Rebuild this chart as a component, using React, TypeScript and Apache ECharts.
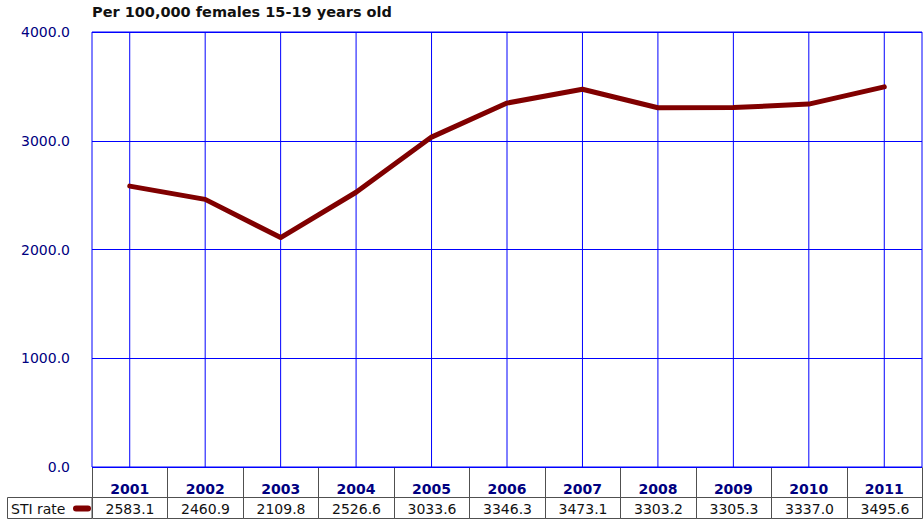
import React, { useEffect, useRef } from "react";
import * as echarts from "echarts";

const years = ["2001", "2002", "2003", "2004", "2005", "2006", "2007", "2008", "2009", "2010", "2011"];
const stiRate = [2583.1, 2460.9, 2109.8, 2526.6, 3033.6, 3346.3, 3473.1, 3303.2, 3305.3, 3337.0, 3495.6];
const seriesName = "STI rate";
const titleText = "Per 100,000 females 15-19 years old";

const W = 923;
const H = 519;
const GL = 92;
const GR = 922;
const GT = 32;
const GB = 467;
const FONT = "DejaVu Sans";
const Y_MIN = 0;
const Y_MAX = 4000;

export default function App() {
  const ref = useRef<HTMLDivElement>(null);
  useEffect(() => {
    if (!ref.current) return;
    const chart = echarts.init(ref.current, null, { renderer: "svg" });
    const colW = (GR - GL) / years.length;
    const headTop = GB;
    const rowTop = 497;
    const rowBot = 518;
    const border = "#505050";
    const tableEls: any[] = [];
    tableEls.push({
      type: "rect",
      shape: { x: 7.5, y: rowTop + 0.5, width: GL - 7.5, height: rowBot - rowTop },
      style: { fill: "#fff", stroke: border, lineWidth: 1 },
    });
    tableEls.push({
      type: "text",
      x: 11,
      y: (rowTop + rowBot) / 2 + 1,
      style: { text: seriesName, font: `14px "${FONT}"`, fill: "#111", verticalAlign: "middle", align: "left" },
    });
    tableEls.push({
      type: "line",
      shape: { x1: 76, y1: (rowTop + rowBot) / 2 + 1, x2: 88, y2: (rowTop + rowBot) / 2 + 1 },
      style: { stroke: "#800000", lineWidth: 6, lineCap: "round" },
    });
    years.forEach((y, i) => {
      const x0 = Math.round(GL + i * colW) + 0.5;
      const x1 = Math.round(GL + (i + 1) * colW) + 0.5;
      tableEls.push({
        type: "rect",
        shape: { x: x0, y: headTop + 0.5, width: x1 - x0, height: rowTop - headTop },
        style: { fill: "none", stroke: border, lineWidth: 1 },
      });
      tableEls.push({
        type: "rect",
        shape: { x: x0, y: rowTop + 0.5, width: x1 - x0, height: rowBot - rowTop },
        style: { fill: "none", stroke: border, lineWidth: 1 },
      });
      tableEls.push({
        type: "text",
        x: (x0 + x1) / 2,
        y: (rowTop + rowBot) / 2 + 1,
        style: {
          text: stiRate[i].toFixed(1),
          font: `14px "${FONT}"`,
          fill: "#111",
          align: "center",
          verticalAlign: "middle",
        },
      });
    });

    chart.setOption({
      animation: false,
      backgroundColor: "#fff",
      title: {
        text: titleText,
        left: GL,
        top: 4,
        padding: 0,
        textStyle: { fontFamily: FONT, fontSize: 14.5, fontWeight: "bold", color: "#111" },
      },
      grid: {
        left: GL,
        right: W - GR,
        top: GT,
        bottom: H - GB,
        show: true,
        borderColor: "#0000ff",
        borderWidth: 1,
      },
      xAxis: {
        type: "category",
        data: years,
        boundaryGap: true,
        axisLine: { show: false },
        axisTick: { show: false },
        splitLine: { show: false },
        axisLabel: {
          margin: 15,
          fontFamily: FONT,
          fontSize: 14,
          fontWeight: "bold",
          color: "#000080",
        },
      },
      yAxis: {
        type: "value",
        min: Y_MIN,
        max: Y_MAX,
        interval: 1000,
        axisLine: { show: false },
        axisTick: { show: false },
        splitLine: { show: true, lineStyle: { color: "#0000ff", width: 1 } },
        axisLabel: {
          margin: 22,
          fontFamily: FONT,
          fontSize: 14,
          color: "#000080",
          formatter: (v: number) => v.toFixed(1),
        },
      },
      series: [
        {
          type: "custom",
          z: 1,
          silent: true,
          data: years.map((_, i) => [i]),
          encode: { x: 0 },
          renderItem: (params: any, api: any) => {
            const idx = api.value(0);
            const top = api.coord([idx, Y_MAX]);
            const bot = api.coord([idx, Y_MIN]);
            return {
              type: "line",
              shape: { x1: top[0], y1: top[1], x2: top[0], y2: bot[1] },
              style: { stroke: "#0000ff", lineWidth: 1 },
            };
          },
        },
        {
          name: seriesName,
          type: "line",
          z: 3,
          data: stiRate,
          symbol: "none",
          lineStyle: { color: "#800000", width: 5, cap: "round", join: "round" },
          itemStyle: { color: "#800000" },
        },
      ],
      graphic: [{ type: "group", children: tableEls }],
    });
    return () => chart.dispose();
  }, []);
  return (
    <div
      ref={ref}
      style={{ position: "fixed", left: 0, top: 0, width: W, height: H, background: "#fff" }}
    />
  );
}
